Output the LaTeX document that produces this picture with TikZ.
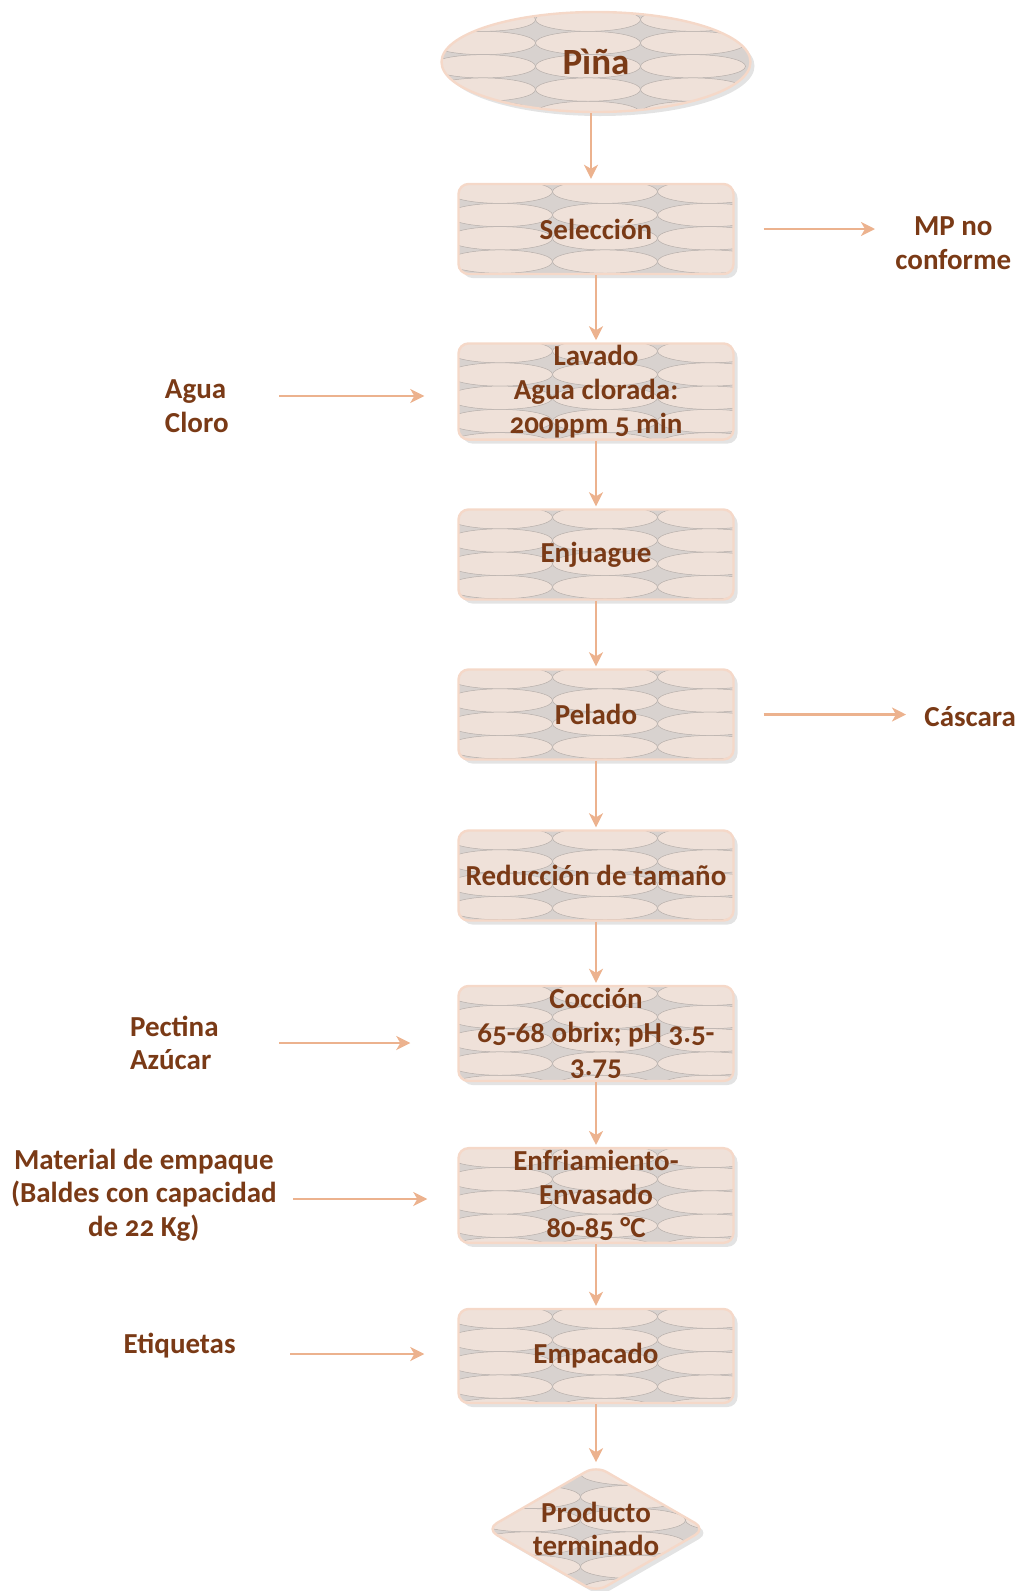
\documentclass[tikz,border=0pt]{standalone}
\usepackage{fontspec}
\setmainfont{Carlito}[Numbers=OldStyle]
\usepackage{tikz}
\usetikzlibrary{shapes.geometric,arrows.meta,shadows}

\definecolor{boxfill}{RGB}{239,225,217}
\definecolor{patgray}{RGB}{216,210,207}
\definecolor{patline}{RGB}{182,174,170}
\definecolor{boxedge}{RGB}{245,216,200}
\definecolor{flowc}{RGB}{236,178,142}
\definecolor{txtc}{RGB}{122,58,22}

% ellipse texture inside a shape
\newcommand{\lenspattern}{%
  \coordinate (nw) at (path picture bounding box.north west);
  \fill[patgray] (path picture bounding box.north west) rectangle (path picture bounding box.south east);
  \foreach \rr in {0,...,5}{
    \foreach \cc in {0,...,3}{
      \filldraw[fill = boxfill, draw = patline, line width = 0.25pt]
        ([xshift = \cc*52.5pt-31.75pt, yshift = -3.85pt-\rr*11.65pt]nw) ellipse [x radius = 26.25pt, y radius = 5.83pt];
    }
  }}

\begin{document}
\begin{tikzpicture}[x = 0.5pt, y = -0.5pt,
                    font = \bfseries\fontsize{14.5}{16.8}\selectfont,
                    every node/.style = {text = txtc},
                    box/.style = {rectangle, rounded corners = 5pt, draw = boxedge, line width = 1.2pt,
                                  fill = boxfill, minimum width = 137.5pt, minimum height = 45pt,
                                  align = center, inner sep = 1pt, path picture = {\lenspattern},
                                  drop shadow = {shadow xshift = 2pt, shadow yshift = -2pt, fill = black!22}},
                    flow/.style = {draw = flowc, line width = 1.3pt, -{Stealth[length = 7pt, width = 7pt, inset = 2pt]}}]

\useasboundingbox (0,0) rectangle (1021,1591);

% start and end
\node [box, ellipse, minimum width = 154.5pt, minimum height = 50pt, font = \bfseries\fontsize{18.5}{20}\selectfont] (E1) at (596,62) {Pìña};
\node [box, diamond, rounded corners = 6pt, aspect = 1.73, minimum width = 106.5pt, minimum height = 61.5pt, inner sep = 0pt] (E2) at (596,1529) {Producto\\ terminado};

% process steps
\node [box] (P1) at (596,229) {Selección};
\node [box, minimum height = 46.5pt] (P2) at (596,391.5) {Lavado\\ Agua clorada:\\ 200ppm 5 min};
\node [box] (P3) at (596,554.5) {Enjuague};
\node [box] (P4) at (596,714.5) {Pelado};
\node [box] (P5) at (596,875.5) {Reducción de tamaño};
\node [box, minimum height = 47.5pt] (P6) at (596,1033.5) {Cocción\\ 65-68 obrix; pH 3.5-\\ 3.75};
\node [box, minimum height = 46.5pt] (P7) at (596,1195.5) {Enfriamiento-\\ Envasado\\ 80-85 °C};
\node [box, minimum height = 47pt] (P8) at (596,1356) {Empacado};

% inputs
\node [anchor = east, align = left, inner sep = 0pt] (I1) at (229,406) {Agua\\ Cloro};
\node [anchor = east, align = left, inner sep = 0pt] (I2) at (219,1043) {Pectina\\ Azúcar};
\node [anchor = east, align = center, inner sep = 0pt] (I3) at (277,1195) {Material de empaque\\ (Baldes con capacidad\\ de 22 Kg)};
\node [anchor = east, inner sep = 0pt] (I4) at (236,1346) {Etiquetas};

% outputs
\node [anchor = west, align = center, inner sep = 0pt] (O1) at (895,243) {MP no\\ conforme};
\node [anchor = west, inner sep = 0pt] (O2) at (924,717) {Cáscara};

% main flow
\draw[flow, shorten >= 2pt] (E1.south -| 591,0) -- (P1.north -| 591,0);
\draw[flow, shorten >= 1pt] (P1) -- (P2);
\draw[flow, shorten >= 1pt] (P2) -- (P3);
\draw[flow, shorten >= 1pt] (P3) -- (P4);
\draw[flow, shorten >= 1pt] (P4) -- (P5);
\draw[flow, shorten >= 1pt] (P5) -- (P6);
\draw[flow, shorten >= 1pt] (P6) -- (P7);
\draw[flow, shorten >= 1pt] (P7) -- (P8);
\draw[flow, shorten >= 1pt] (P8) -- (E2);

% side arrows
\draw[flow, shorten <= 25pt, shorten >= 16.5pt] (I1.east |- 0,396) -- (P2.west |- 0,396);
\draw[flow, shorten <= 30pt, shorten >= 23.5pt] (I2.east) -- (P6.west |- I2.east);
\draw[flow, shorten <= 8pt, shorten >= 15pt] (I3.east |- 0,1199) -- (P7.west |- 0,1199);
\draw[flow, shorten <= 27pt, shorten >= 16.5pt] (I4.east |- 0,1354) -- (P8.west |- 0,1354);
\draw[flow, shorten <= 14.5pt, shorten >= 10pt] (P1.east) -- (O1.west |- P1.east);
\draw[flow, shorten <= 14.5pt, shorten >= 9pt] (P4.east) -- (O2.west |- P4.east);
\end{tikzpicture}
\end{document}
